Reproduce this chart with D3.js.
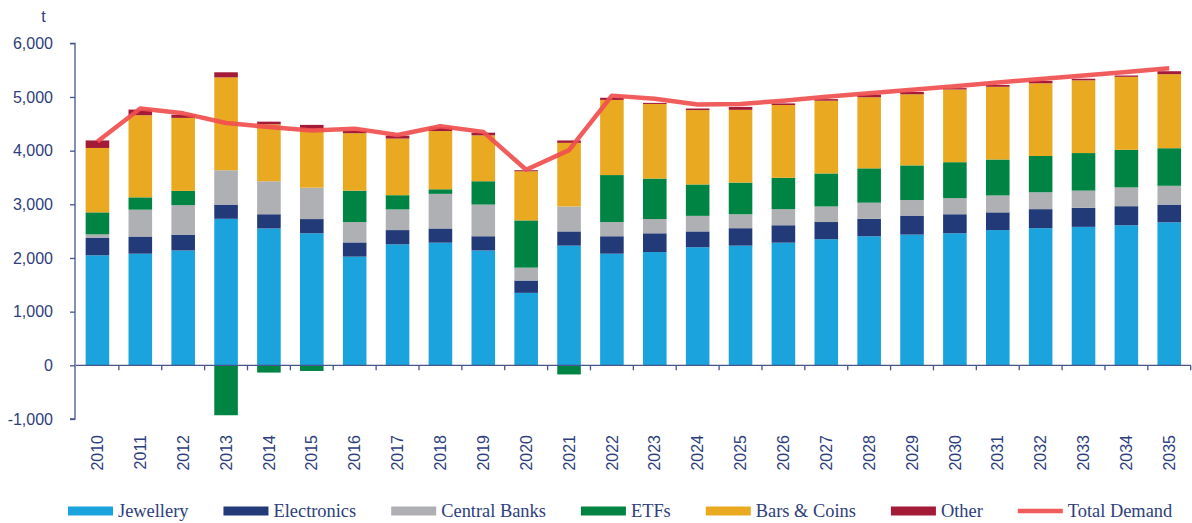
<!DOCTYPE html>
<html>
<head>
<meta charset="utf-8">
<script src="https://cdn.jsdelivr.net/npm/d3@7/dist/d3.min.js"></script>
<style>
  html, body { margin: 0; padding: 0; background: #ffffff; }
  svg { display: block; }
</style>
</head>
<body>
<svg id="chart" width="1192" height="523"></svg>
<script>
// Gold demand by sector, tonnes, 2010–2035
const years = [2010, 2011, 2012, 2013, 2014, 2015, 2016, 2017, 2018, 2019, 2020, 2021, 2022,
               2023, 2024, 2025, 2026, 2027, 2028, 2029, 2030, 2031, 2032, 2033, 2034, 2035];

const jewellery    = [2050, 2080, 2140, 2730, 2550, 2460, 2025, 2255, 2285, 2140, 1350, 2230, 2080,
                      2110, 2200, 2230, 2285, 2350, 2405, 2435, 2460, 2520, 2555, 2580, 2610, 2665];
const electronics  = [330, 320, 295, 265, 265, 265, 265, 265, 265, 265, 230, 265, 325,
                      350, 295, 325, 325, 320, 325, 355, 355, 330, 355, 355, 355, 330];
const centralBanks = [60, 500, 550, 640, 615, 585, 380, 385, 645, 590, 240, 465, 265,
                      265, 290, 260, 300, 290, 300, 290, 300, 315, 315, 320, 350, 350];
const etfs         = [410, 230, 265, -930, -135, -105, 585, 265, 85, 435, 880, -170, 875,
                      755, 585, 590, 585, 615, 640, 645, 670, 670, 675, 700, 700, 700];
const barsCoins    = [1200, 1530, 1360, 1730, 1060, 1095, 1070, 1055, 1085, 855, 915, 1185, 1400,
                      1390, 1385, 1355, 1355, 1355, 1325, 1325, 1355, 1355, 1355, 1355, 1360, 1380];
const other        = [140, 105, 60, 95, 50, 75, 45, 55, 70, 50, 20, 45, 40,
                      20, 30, 55, 30, 30, 50, 45, 25, 35, 45, 30, 25, 55];
const totalDemand  = [4170, 4785, 4695, 4515, 4440, 4375, 4410, 4290, 4455, 4350, 3645, 4010, 5025,
                      4965, 4860, 4870, 4930, 5005, 5070, 5135, 5200, 5270, 5335, 5400, 5465, 5535];

const seriesNames = ["Jewellery", "Electronics", "Central Banks", "ETFs", "Bars & Coins", "Other"];
const seriesValues = [jewellery, electronics, centralBanks, etfs, barsCoins, other];
const seriesColors = ["#1aa3dc", "#223a78", "#afb0b3", "#008443", "#e9a921", "#a31b37"];
const lineName = "Total Demand";
const lineColor = "#f04f4f";

const yTicks = [-1000, 0, 1000, 2000, 3000, 4000, 5000, 6000];
const unitLabel = "t";

// table of rows for the stack layout
const rows = years.map((yr, i) => {
  const r = { year: yr };
  seriesNames.forEach((n, k) => { r[n] = seriesValues[k][i]; });
  return r;
});

const svg = d3.select("#chart");
const inkColor = "#2d3e7c";
const axisColor = "#46558c";

const x = d3.scaleBand()
  .domain(years)
  .range([76, 1190.7])
  .paddingInner(0.45)
  .paddingOuter(0.225);

const y = d3.scaleLinear()
  .domain([-1000, 6000])
  .range([419, 43.3]);

const stack = d3.stack()
  .keys(seriesNames)
  .offset(d3.stackOffsetDiverging);
const stacked = stack(rows);

// stacked bars
const g = svg.append("g");
stacked.forEach((layer, k) => {
  g.append("g")
    .attr("fill", seriesColors[k])
    .selectAll("rect")
    .data(layer)
    .join("rect")
    .attr("x", d => x(d.data.year))
    .attr("width", x.bandwidth())
    .attr("y", d => y(Math.max(d[0], d[1])))
    .attr("height", d => Math.abs(y(d[0]) - y(d[1])));
});

// y axis (plain hyphen for negatives)
const fmt = d3.format(",");
const yAxis = svg.append("g")
  .attr("transform", "translate(75,0)")
  .call(d3.axisLeft(y).tickValues(yTicks).tickSize(5).tickPadding(17)
    .tickFormat(d => fmt(d).replace("\u2212", "-")));
yAxis.select(".domain").attr("stroke", axisColor).attr("stroke-width", 1.3)
  .attr("d", `M-5,${y(6000)}H0V${y(-1000)}H-5`);
yAxis.selectAll(".tick line").attr("stroke", axisColor).attr("stroke-width", 1.3);
yAxis.selectAll(".tick text")
  .attr("fill", inkColor)
  .style("font-family", "'Liberation Sans', Arial, sans-serif")
  .style("font-size", "16px");

svg.append("text")
  .attr("x", 43.5).attr("y", 22)
  .attr("text-anchor", "middle")
  .attr("fill", inkColor)
  .style("font-family", "'Liberation Sans', Arial, sans-serif")
  .style("font-size", "16px")
  .text(unitLabel);

// zero baseline with category separators
const x0 = x.range()[0], x1 = x.range()[1];
svg.append("line")
  .attr("x1", x0).attr("x2", x1)
  .attr("y1", y(0)).attr("y2", y(0))
  .attr("stroke", axisColor).attr("stroke-width", 1.3);
svg.append("g").selectAll("line")
  .data(years)
  .join("line")
  .attr("x1", d => x(d) + x.bandwidth() + x.step() * x.paddingInner() / 2)
  .attr("x2", d => x(d) + x.bandwidth() + x.step() * x.paddingInner() / 2)
  .attr("y1", y(0)).attr("y2", y(0) + 5)
  .attr("stroke", axisColor).attr("stroke-width", 1.3);

// rotated year labels
svg.append("g").selectAll("text")
  .data(years)
  .join("text")
  .attr("transform", d => `translate(${x(d) + x.bandwidth() / 2},435) rotate(-90)`)
  .attr("text-anchor", "end")
  .attr("dy", "0.35em")
  .attr("fill", inkColor)
  .style("font-family", "'Liberation Sans', Arial, sans-serif")
  .style("font-size", "16px")
  .text(d => d);

// total demand line
const line = d3.line()
  .x((d, i) => x(years[i]) + x.bandwidth() / 2)
  .y(d => y(d));
svg.append("path")
  .datum(totalDemand)
  .attr("fill", "none")
  .attr("stroke", lineColor)
  .attr("stroke-width", 4.5)
  .attr("stroke-linejoin", "round")
  .attr("stroke-opacity", 0.92)
  .attr("d", line);

// legend
const legendItems = seriesNames.map((n, k) => ({ name: n, color: seriesColors[k], kind: "rect" }))
  .concat([{ name: lineName, color: lineColor, kind: "line" }]);
const legend = svg.append("g");
let lx = 68;
const swW = 45, swGap = 5, itemGap = 35, ly = 511;
legendItems.forEach(item => {
  if (item.kind === "rect") {
    legend.append("rect")
      .attr("x", lx).attr("y", ly - 4.5)
      .attr("width", swW).attr("height", 9)
      .attr("fill", item.color);
  } else {
    legend.append("line")
      .attr("x1", lx).attr("x2", lx + swW)
      .attr("y1", ly).attr("y2", ly)
      .attr("stroke", item.color).attr("stroke-width", 4.5)
      .attr("stroke-opacity", 0.92);
  }
  const t = legend.append("text")
    .attr("x", lx + swW + swGap).attr("y", ly + 6)
    .attr("fill", inkColor)
    .style("font-family", "'Liberation Serif', 'Times New Roman', serif")
    .style("font-size", "18.4px")
    .text(item.name);
  lx += swW + swGap + t.node().getComputedTextLength() + itemGap;
});
</script>
</body>
</html>
